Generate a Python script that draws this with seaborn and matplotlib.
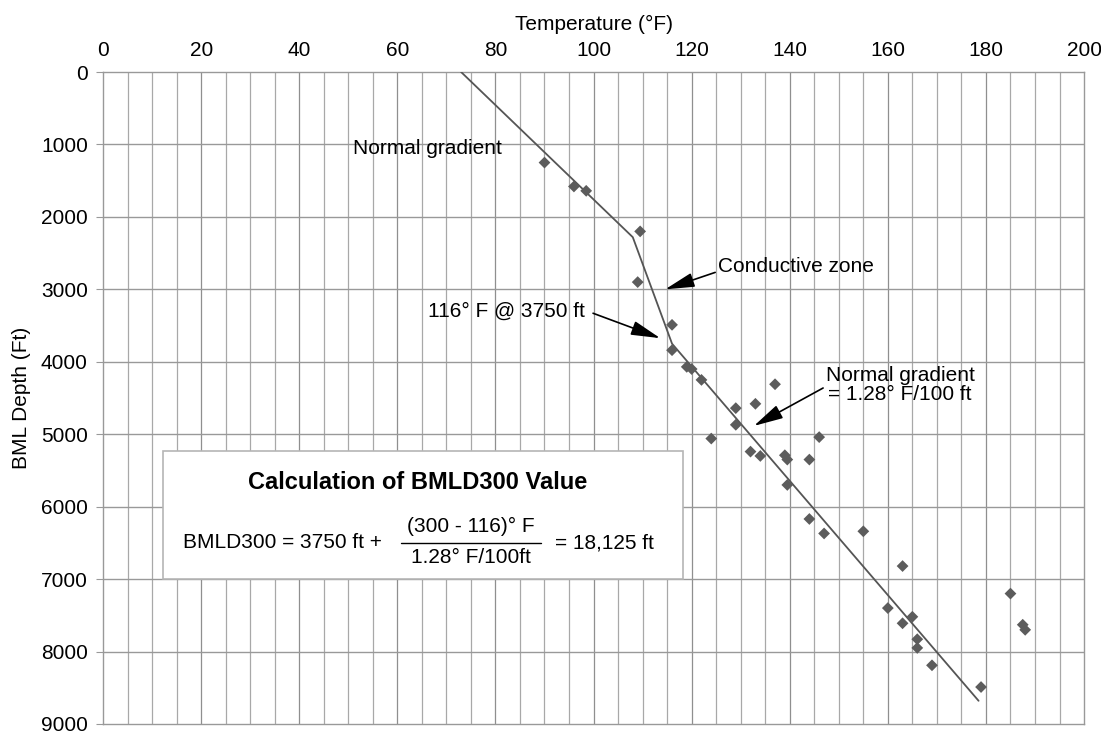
import numpy as np
import pandas as pd
import matplotlib
matplotlib.use("Agg")
import matplotlib.pyplot as plt
import seaborn as sns
from matplotlib.patches import Rectangle

# measured well temperatures (deg F) vs BML depth (ft)
temps = [90, 96, 98.5, 109.5, 109, 116, 116, 119, 120, 122, 137, 129, 133, 129, 124, 146,
         132, 134, 139, 139.5, 144, 139.5, 144, 147, 155, 163, 185, 160, 163, 165, 187.5,
         188, 166, 166, 169, 179]
depths = [1250, 1580, 1640, 2200, 2900, 3490, 3840, 4070, 4100, 4250, 4310, 4640, 4580,
          4870, 5060, 5040, 5240, 5300, 5290, 5350, 5350, 5700, 6170, 6370, 6340, 6820,
          7200, 7400, 7610, 7520, 7630, 7700, 7830, 7950, 8190, 8490]

# interpreted gradient line
grad_t = [73, 108, 116, 178.5]
grad_d = [0, 2280, 3750, 8680]

x_ticks = list(range(0, 201, 20))
y_ticks = list(range(0, 9001, 1000))

pts = pd.DataFrame({"Temperature": temps, "Depth": depths})
grad = pd.DataFrame({"Temperature": grad_t, "Depth": grad_d})

sns.set_style("white")
plt.rcParams["font.family"] = ["Liberation Sans", "DejaVu Sans"]
plt.rcParams["text.color"] = "black"

fig = plt.figure(figsize=(11.01, 7.35), dpi=100)
ax = fig.add_axes([0.0936, 0.015, 0.891, 0.887])

# graph paper grid
for t in np.arange(5, 200, 5):
    ax.axvline(t, color="#a8a8a8" if t % 20 else "#8f8f8f", lw=0.9, zorder=0)
for d in y_ticks[1:-1]:
    ax.axhline(d, color="#999999", lw=1.0, zorder=0)

sns.lineplot(data=grad, x="Temperature", y="Depth", sort=False, estimator=None,
             color="#555555", lw=1.3, ax=ax, zorder=3)
sns.scatterplot(data=pts, x="Temperature", y="Depth", marker="D", s=36,
                color="#5c5c5c", edgecolor="none", ax=ax, zorder=4)

ax.set_xlim(0, 200)
ax.set_ylim(9000, 0)
ax.xaxis.tick_top()
ax.set_xticks(x_ticks)
ax.set_yticks(y_ticks)
ax.tick_params(axis="x", length=0, pad=9, labelsize=15, labelcolor="black")
ax.tick_params(axis="y", length=5, color="#999999", pad=6, labelsize=15,
               labelcolor="black", left=True)
for s in ax.spines.values():
    s.set_color("#999999")
    s.set_linewidth(1.0)

ax.set_xlabel("")
ax.set_ylabel("")
ax.text(0.5, 1.073, "Temperature (°F)", transform=ax.transAxes, ha="center",
        va="center", fontsize=15)
ax.text(-0.083, 0.50, "BML Depth (Ft)", transform=ax.transAxes, ha="center",
        va="center", rotation=90, fontsize=15)

# annotations
arrow = dict(arrowstyle="-|>,head_length=0.9,head_width=0.22", color="black",
             lw=1.2, mutation_scale=20, shrinkA=0, shrinkB=0)
ax.text(51, 1060, "Normal gradient", ha="left", va="center", fontsize=15, zorder=5)
ax.text(125.4, 2690, "Conductive zone", ha="left", va="center", fontsize=15, zorder=5)
ax.annotate("", xy=(114.6, 3000), xytext=(124.8, 2766), arrowprops=arrow, zorder=5)
ax.text(98.3, 3300, "116° F @ 3750 ft", ha="right", va="center", fontsize=15, zorder=5)
ax.annotate("", xy=(113.6, 3674), xytext=(99.9, 3330), arrowprops=arrow, zorder=5)
ax.text(162.5, 4320, "Normal gradient\n= 1.28° F/100 ft", ha="center", va="center",
        fontsize=15, linespacing=1.05, zorder=5)
ax.annotate("", xy=(132.7, 4885), xytext=(146.8, 4362), arrowprops=arrow, zorder=5)

# calculation box
box = Rectangle((0.0612, 0.2217), 0.5298, 0.1973, transform=ax.transAxes,
                facecolor="white", edgecolor="#b5b5b5", lw=1.2, zorder=6)
ax.add_patch(box)
ax.text(0.321, 0.370, "Calculation of BMLD300 Value", transform=ax.transAxes,
        ha="center", va="center", fontsize=17, fontweight="bold", zorder=7)
ax.text(0.0815, 0.2783, "BMLD300 = 3750 ft +", transform=ax.transAxes,
        ha="left", va="center", fontsize=15, zorder=7)
ax.text(0.375, 0.3028, "(300 - 116)° F", transform=ax.transAxes,
        ha="center", va="center", fontsize=15, zorder=7)
ax.text(0.375, 0.2554, "1.28° F/100ft", transform=ax.transAxes,
        ha="center", va="center", fontsize=15, zorder=7)
ax.plot([0.3038, 0.4465], [0.2775, 0.2775], transform=ax.transAxes,
        color="black", lw=1.0, zorder=7)
ax.text(0.4608, 0.2783, "= 18,125 ft", transform=ax.transAxes,
        ha="left", va="center", fontsize=15, zorder=7)

fig.savefig("out.png", dpi=100)
